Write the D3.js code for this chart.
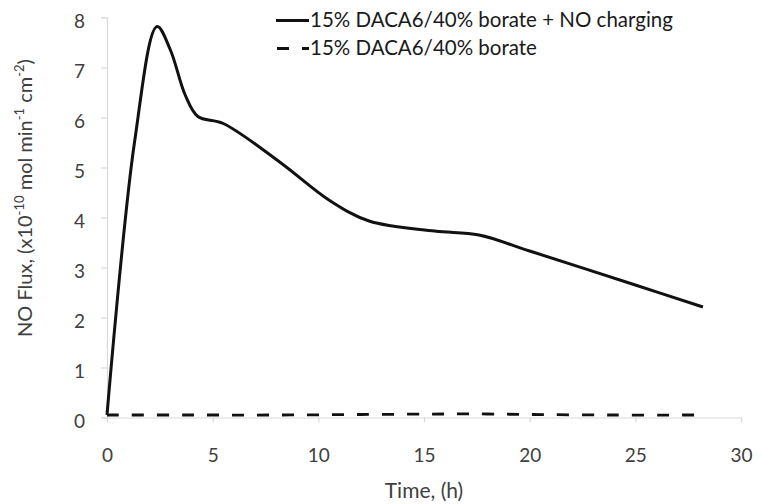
<!DOCTYPE html>
<html><head><meta charset="utf-8">
<script src="https://cdn.jsdelivr.net/npm/d3@7"></script>
<style>body{margin:0;background:#fff}svg{display:block}text{font-family:Lato,"Open Sans",sans-serif}</style>
</head><body>
<div id="chart"></div>
<script>
// Data
const timeCharged = [0, 1.3, 2.37, 3.0, 3.7, 4.3, 5.5, 8.2, 10.5, 12.4, 15.5, 17.6, 20.0, 25.0, 28.2];
const fluxCharged = [0.05, 5.5, 7.82, 7.35, 6.45, 6.02, 5.88, 5.1, 4.35, 3.93, 3.73, 3.65, 3.33, 2.65, 2.21];
const timeControl = [0, 4, 8, 12, 16, 18, 20, 24, 28.2];
const fluxControl = [0.05, 0.05, 0.05, 0.06, 0.07, 0.07, 0.06, 0.05, 0.05];
const xTicks = [0, 5, 10, 15, 20, 25, 30];
const yTicks = [0, 1, 2, 3, 4, 5, 6, 7, 8];
const seriesNames = ["15% DACA6/40% borate + NO charging", "15% DACA6/40% borate"];

const W = 762, H = 504;
const svg = d3.select("#chart").append("svg").attr("width", W).attr("height", H);
const x = d3.scaleLinear().domain([0, 30]).range([107, 741]);
const y = d3.scaleLinear().domain([0, 8]).range([417.5, 17.5]);
const axisCol = "#d9d9d9", textCol = "#404040";

// axes
const gx = svg.append("g").attr("transform", `translate(0,${y(0)})`)
  .call(d3.axisBottom(x).tickValues(xTicks).tickSize(5));
const gy = svg.append("g").attr("transform", `translate(${x(0)},0)`)
  .call(d3.axisLeft(y).tickValues(yTicks).tickSize(6));
[gx, gy].forEach(g => {
  g.select(".domain").attr("stroke", axisCol).attr("stroke-width", 1.2);
  g.selectAll(".tick line").attr("stroke", axisCol).attr("stroke-width", 1.2);
  g.selectAll(".tick text").attr("fill", textCol).style("font-size", "19px").style("font-family", "Lato, 'Open Sans', sans-serif");
});
gx.selectAll(".tick text").attr("y", 44).attr("dy", "0");
gy.selectAll(".tick text").attr("x", -22).attr("dy", "0.5em");

// axis titles
svg.append("text").attr("x", x(15)).attr("y", 498).attr("text-anchor", "middle")
  .attr("fill", textCol).style("font-size", "21px").text("Time, (h)");
const yt = svg.append("text").attr("transform", "translate(32,198) rotate(-90)")
  .attr("text-anchor", "middle").attr("fill", textCol).style("font-size", "20px");
yt.append("tspan").text("NO Flux, (x10");
yt.append("tspan").attr("dy", -8).style("font-size", "13px").text("-10");
yt.append("tspan").attr("dy", 8).text(" mol min");
yt.append("tspan").attr("dy", -8).style("font-size", "13px").text("-1");
yt.append("tspan").attr("dy", 8).text(" cm");
yt.append("tspan").attr("dy", -8).style("font-size", "13px").text("-2");
yt.append("tspan").attr("dy", 8).text(")");

// lines
const line = d3.line().x(d => x(d[0])).y(d => y(d[1])).curve(d3.curveCatmullRom.alpha(0.5));
svg.append("path").datum(d3.zip(timeControl, fluxControl)).attr("d", line)
  .attr("fill", "none").attr("stroke", "#111").attr("stroke-width", 2.8).attr("stroke-dasharray", "12,13");
svg.append("path").datum(d3.zip(timeCharged, fluxCharged)).attr("d", line)
  .attr("fill", "none").attr("stroke", "#111").attr("stroke-width", 3).attr("stroke-linejoin", "round");

// legend
const leg = svg.append("g");
leg.append("line").attr("x1", 276).attr("x2", 309).attr("y1", 20.5).attr("y2", 20.5)
  .attr("stroke", "#111").attr("stroke-width", 3);
leg.append("line").attr("x1", 277).attr("x2", 309).attr("y1", 48.5).attr("y2", 48.5)
  .attr("stroke", "#111").attr("stroke-width", 3).attr("stroke-dasharray", "12,13");
leg.append("text").attr("x", 310).attr("y", 27).attr("fill", "#1a1a1a").style("font-size", "20.5px").text(seriesNames[0]);
leg.append("text").attr("x", 310).attr("y", 55).attr("fill", "#1a1a1a").style("font-size", "20.5px").text(seriesNames[1]);
</script>
</body></html>
